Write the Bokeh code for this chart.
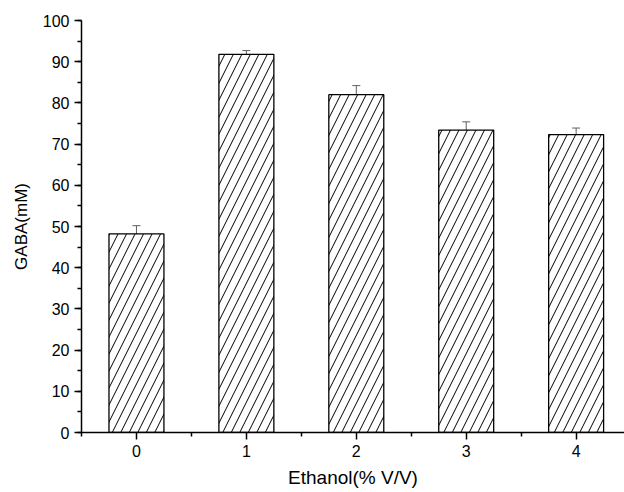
from bokeh.plotting import figure
from bokeh.models import Range1d, SingleIntervalTicker, ColumnDataSource, Whisker, TeeHead, FixedTicker
from bokeh.embed import file_html
from bokeh.resources import INLINE

# Data
ethanol = [0, 1, 2, 3, 4]
gaba = [48.2, 91.8, 82.0, 73.4, 72.3]
gaba_err = [2.0, 0.9, 2.2, 2.0, 1.6]
x_ticks = [0, 1, 2, 3, 4]

src = ColumnDataSource(dict(
    x=ethanol, top=gaba,
    upper=[g + e for g, e in zip(gaba, gaba_err)],
    lower=[g - e for g, e in zip(gaba, gaba_err)],
))

p = figure(width=624, height=492, output_backend="svg", toolbar_location=None,
           x_range=Range1d(-0.5, 4.44), y_range=Range1d(0, 100),
           min_border_left=81, min_border_right=0, min_border_top=20, min_border_bottom=60)
p.outline_line_color = None
p.xgrid.visible = False
p.ygrid.visible = False
p.background_fill_color = "white"
p.border_fill_color = "white"

p.vbar(x="x", top="top", bottom=0, width=0.5, source=src,
       fill_color="white", line_color="black", line_width=1.3,
       hatch_pattern="/", hatch_color="black", hatch_weight=1, hatch_scale=17)

w = Whisker(base="x", upper="upper", lower="lower", source=src,
            line_color="#606060", line_width=1,
            upper_head=TeeHead(size=8, line_color="#606060", line_width=1),
            lower_head=TeeHead(size=8, line_color="#606060", line_width=1))
p.add_layout(w)

font = "Liberation Sans"
for ax in (p.xaxis[0], p.yaxis[0]):
    ax.axis_line_width = 1.5
    ax.axis_line_color = "black"
    ax.major_tick_line_width = 1.5
    ax.minor_tick_line_width = 1.5
    ax.major_tick_in = 0
    ax.major_tick_out = 7
    ax.minor_tick_in = 0
    ax.minor_tick_out = 4
    ax.major_label_text_font = font
    ax.major_label_text_font_size = "16px"
    ax.major_label_text_color = "black"
    ax.axis_label_text_font = font
    ax.axis_label_text_font_style = "normal"
    ax.axis_label_text_color = "black"

p.yaxis.ticker = SingleIntervalTicker(interval=10, num_minor_ticks=2)
p.xaxis.ticker = FixedTicker(ticks=x_ticks, minor_ticks=[-0.5, 0.5, 1.5, 2.5, 3.5])
p.yaxis.axis_label = "GABA(mM)"
p.xaxis.axis_label = "Ethanol(% V/V)"
p.yaxis.axis_label_text_font_size = "17px"
p.xaxis.axis_label_text_font_size = "19px"
p.yaxis.major_label_standoff = 5
p.xaxis.major_label_standoff = 5
p.yaxis.axis_label_standoff = 9
p.xaxis.axis_label_standoff = 7

open("out.html", "w").write(file_html(p, INLINE))
